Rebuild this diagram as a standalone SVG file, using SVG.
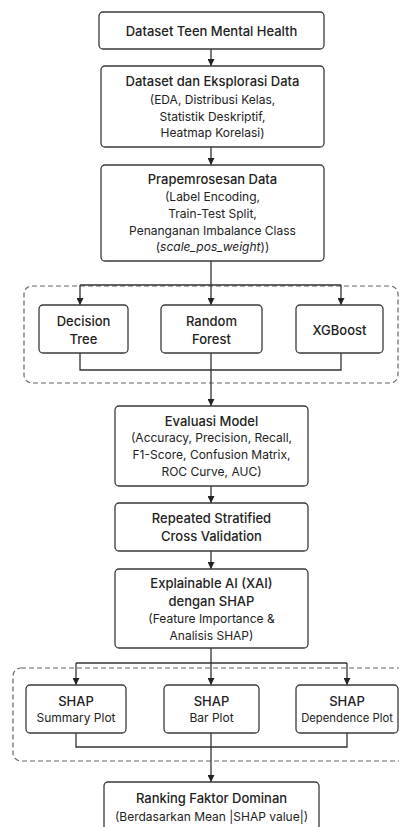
<svg xmlns="http://www.w3.org/2000/svg" width="399" height="827" viewBox="0 0 399 827">
<defs>
<marker id="ah" viewBox="0 0 10 10" refX="10" refY="5" markerWidth="7" markerHeight="7" markerUnits="userSpaceOnUse" orient="auto"><path d="M0,0 L10,5 L0,10 z" fill="#222"/></marker>
<style>
.box{fill:#fff;stroke:#3a3a3a;stroke-width:1.3}
.grp{fill:none;stroke:#666;stroke-width:1.2;stroke-dasharray:5 3}
.ln{fill:none;stroke:#333;stroke-width:1.3}
.ar{fill:none;stroke:#333;stroke-width:1.3;marker-end:url(#ah)}
text{font-family:Inter,"Noto Sans",sans-serif;fill:#222;text-anchor:middle}
.t{font-size:13px;font-weight:500}
.s{font-size:12px}
</style>
</defs>
<rect width="399" height="827" fill="#fff"/>
<g id="groups">
<rect class="grp" x="24" y="286" width="374" height="97" rx="8"/>
<rect class="grp" x="13" y="668" width="400" height="93" rx="8"/>
</g>
<g id="connectors">
<path class="ar" d="M211,49 V66"/>
<path class="ar" d="M211,147 V165"/>
<path class="ar" d="M211,261 V305"/>
<path class="ln" d="M80,285 H341"/>
<path class="ar" d="M80,285 V305"/>
<path class="ar" d="M341,285 V305"/>
<path class="ln" d="M80,353 V370 H341 V353"/>
<path class="ar" d="M211,353 V406"/>
<path class="ar" d="M211,486 V503"/>
<path class="ar" d="M211,551 V569"/>
<path class="ar" d="M211,648 V685"/>
<path class="ln" d="M76,663 H347"/>
<path class="ar" d="M76,663 V685"/>
<path class="ar" d="M347,663 V685"/>
<path class="ln" d="M76,733 V747 H347 V733"/>
<path class="ar" d="M211,733 V782"/>
</g>
<g id="n1">
<rect class="box" x="99" y="12" width="225" height="37" rx="4"/>
<text class="t" x="211.5" y="35.5">Dataset Teen Mental Health</text>
</g>
<g id="n2">
<rect class="box" x="101" y="66" width="223" height="81" rx="4"/>
<text class="t" x="212.5" y="85.5">Dataset dan Eksplorasi Data</text>
<text class="s" x="212.5" y="104">(EDA, Distribusi Kelas,</text>
<text class="s" x="212.5" y="121">Statistik Deskriptif,</text>
<text class="s" x="212.5" y="136.5">Heatmap Korelasi)</text>
</g>
<g id="n3">
<rect class="box" x="101" y="165" width="223" height="96" rx="4"/>
<text class="t" x="212.5" y="183.5">Prapemrosesan Data</text>
<text class="s" x="212.5" y="201">(Label Encoding,</text>
<text class="s" x="212.5" y="218">Train-Test Split,</text>
<text class="s" x="212.5" y="234.5">Penanganan Imbalance Class</text>
<text class="s" x="212.5" y="251">(<tspan font-style="italic">scale_pos_weight</tspan>))</text>
</g>
<g id="n4">
<rect class="box" x="39" y="305" width="89" height="48" rx="4"/>
<text class="t" x="83.5" y="325.5">Decision</text>
<text class="t" x="83.5" y="343.5">Tree</text>
</g>
<g id="n5">
<rect class="box" x="161" y="305" width="101" height="48" rx="4"/>
<text class="t" x="211.5" y="325.5">Random</text>
<text class="t" x="211.5" y="343.5">Forest</text>
</g>
<g id="n6">
<rect class="box" x="296" y="305" width="87" height="48" rx="4"/>
<text class="t" x="339.5" y="334.5">XGBoost</text>
</g>
<g id="n7">
<rect class="box" x="115" y="406" width="193" height="80" rx="4"/>
<text class="t" x="211.5" y="425.5">Evaluasi Model</text>
<text class="s" x="211.5" y="441.5">(Accuracy, Precision, Recall,</text>
<text class="s" x="211.5" y="459">F1-Score, Confusion Matrix,</text>
<text class="s" x="211.5" y="475.5">ROC Curve, AUC)</text>
</g>
<g id="n8">
<rect class="box" x="115" y="503" width="193" height="48" rx="4"/>
<text class="t" x="211.5" y="522.5">Repeated Stratified</text>
<text class="t" x="211.5" y="540.5">Cross Validation</text>
</g>
<g id="n9">
<rect class="box" x="115" y="569" width="193" height="79" rx="4"/>
<text class="t" x="211.5" y="587.5">Explainable AI (XAI)</text>
<text class="t" x="211.5" y="605.5">dengan SHAP</text>
<text class="s" x="211.5" y="623">(Feature Importance &amp;</text>
<text class="s" x="211.5" y="640">Analisis SHAP)</text>
</g>
<g id="n10">
<rect class="box" x="26" y="685" width="100" height="48" rx="4"/>
<text class="t" x="76" y="705.5">SHAP</text>
<text class="s" x="76" y="722">Summary Plot</text>
</g>
<g id="n11">
<rect class="box" x="164" y="685" width="95" height="48" rx="4"/>
<text class="t" x="211.5" y="705.5">SHAP</text>
<text class="s" x="211.5" y="722">Bar Plot</text>
</g>
<g id="n12">
<rect class="box" x="296" y="685" width="102" height="48" rx="4"/>
<text class="t" x="347" y="705.5">SHAP</text>
<text class="s" x="347" y="722" style="font-size:11.3px">Dependence Plot</text>
</g>
<g id="n13">
<rect class="box" x="104" y="782" width="215" height="60" rx="4"/>
<text class="t" x="211.5" y="802.5">Ranking Faktor Dominan</text>
<text class="s" x="211.5" y="821">(Berdasarkan Mean |SHAP value|)</text>
</g>
</svg>
